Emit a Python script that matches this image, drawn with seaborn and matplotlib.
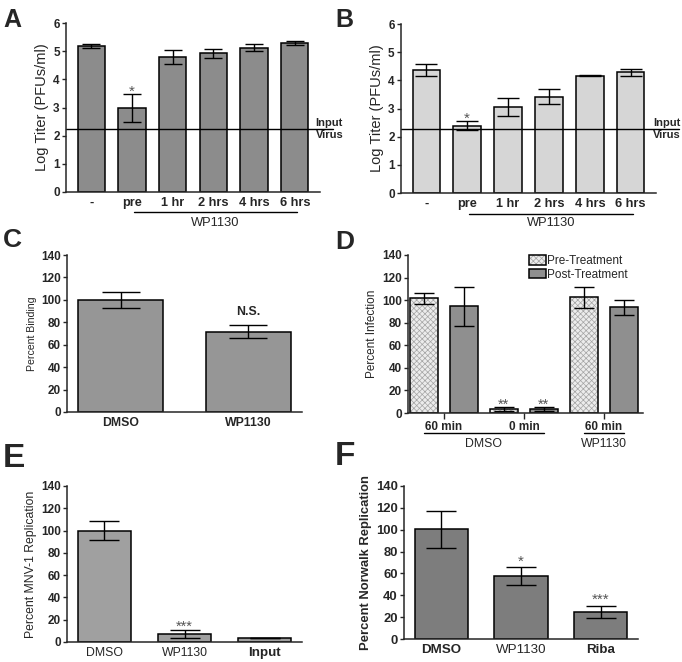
import numpy as np
import pandas as pd
import matplotlib
matplotlib.use("Agg")
import matplotlib.pyplot as plt
import matplotlib.colors as mcolors
import seaborn as sns

# A / B: log titer after WP1130 at different times
AB_CATS = ["-", "pre", "1 hr", "2 hrs", "4 hrs", "6 hrs"]
A_TITER = [5.17, 2.97, 4.79, 4.92, 5.13, 5.28]
A_ERR = [0.07, 0.50, 0.26, 0.15, 0.11, 0.07]
A_STARS = ["", "*", "", "", "", ""]
A_INPUT = 2.24
B_TITER = [4.38, 2.39, 3.06, 3.42, 4.17, 4.29]
B_ERR = [0.21, 0.16, 0.31, 0.27, 0.02, 0.13]
B_STARS = ["", "*", "", "", "", ""]
B_INPUT = 2.27

# C: binding
C_CATS = ["DMSO", "WP1130"]
C_BINDING = [100, 71.5]
C_ERR = [7.3, 5.8]

# D: pre / post treatment infection
D_GROUPS = ["DMSO 60", "DMSO 0", "WP1130 60"]
D_TICKS = ["60 min", "0 min", "60 min"]
D_HUES = ["Pre-Treatment", "Post-Treatment"]
D_PRE = [101.5, 3.5, 102.5]
D_PRE_ERR = [5.0, 1.5, 9.5]
D_POST = [94.5, 3.5, 93.5]
D_POST_ERR = [17.0, 1.5, 6.5]
D_STARS = ["", "**", ""]

# E: MNV-1 replication
E_CATS = ["DMSO", "WP1130", "Input"]
E_REPL = [100, 7.4, 3.2]
E_ERR = [8.3, 3.7, 0]
E_STARS = ["", "***", ""]

# F: Norwalk replicon
F_CATS = ["DMSO", "WP1130", "Riba"]
F_REPL = [100.3, 57.6, 24.8]
F_ERR = [17.0, 8.0, 5.8]
F_STARS = ["", "*", "***"]

sns.set_style("ticks")
plt.rcParams["font.family"] = ["Liberation Sans", "DejaVu Sans"]
plt.rcParams["axes.linewidth"] = 1.1
plt.rcParams["hatch.linewidth"] = 0.5

W, H = 682, 662
fig = plt.figure(figsize=(W / 100, H / 100), dpi=100)


def px_axes(left, top, right, bottom):
    return fig.add_axes([left / W, 1 - bottom / H, (right - left) / W, (bottom - top) / H])


def draw_bars(ax, cats, vals, errs, color, capsize):
    sns.barplot(x=cats, y=vals, color=color, saturation=1, width=0.67,
                edgecolor="black", linewidth=1.1, errorbar=None, ax=ax)
    ax.errorbar(np.arange(len(cats)), vals, yerr=errs, fmt="none", ecolor="black",
                elinewidth=1, capsize=capsize, capthick=1)


def add_stars(ax, xs, vals, errs, stars, size=11, dy=-3):
    for x, v, e, s in zip(xs, vals, errs, stars):
        if s:
            ax.annotate(s, (x, v + e), xytext=(0, dy), textcoords="offset points",
                        ha="center", va="bottom", fontsize=size, color="#555555")


def style(ax, yticks, ysize, xsize, ybold=True, xbold=True):
    sns.despine(ax=ax)
    ax.set_yticks(yticks)
    ax.set_ylim(yticks[0], yticks[-1])
    ax.tick_params(axis="y", length=3, width=1, pad=1.5, labelsize=ysize)
    ax.tick_params(axis="x", length=0, pad=3.5, labelsize=xsize)
    for t in ax.get_yticklabels():
        t.set_fontweight("bold" if ybold else "normal")
    for t in ax.get_xticklabels():
        t.set_fontweight("bold" if xbold else "normal")
    ax.set_xlabel("")


def input_line(ax, value, xmax, text_x):
    ax.axhline(value, xmin=0, xmax=xmax, color="black", lw=1, clip_on=False)
    tr = ax.get_yaxis_transform()
    ax.annotate("Input", (text_x, value), xycoords=tr, xytext=(0, 1), textcoords="offset points",
                ha="left", va="bottom", fontsize=8, fontweight="bold")
    ax.annotate("Virus", (text_x, value), xycoords=tr, xytext=(0, -1), textcoords="offset points",
                ha="left", va="top", fontsize=8, fontweight="bold")


def wp_bracket(ax, y_line, y_text):
    tr = ax.get_xaxis_transform()
    ax.plot([1.05, 5.05], [y_line, y_line], color="black", lw=1, transform=tr, clip_on=False)
    ax.text(3.05, y_text, "WP1130", transform=tr, ha="center", va="center", fontsize=9.3)


# ---- A
ax = px_axes(66, 23, 320, 192)
draw_bars(ax, AB_CATS, A_TITER, A_ERR, "#8c8c8c", 6.8)
add_stars(ax, range(6), A_TITER, A_ERR, A_STARS)
style(ax, list(range(7)), 8.5, 9.2)
ax.set_ylabel("Log Titer (PFUs/ml)", fontsize=10.5, labelpad=3)
input_line(ax, A_INPUT, 1.05, 0.983)
wp_bracket(ax, -0.118, -0.182)

# ---- B
ax = px_axes(401, 24, 656, 193)
draw_bars(ax, AB_CATS, B_TITER, B_ERR, "#d6d6d6", 8)
add_stars(ax, range(6), B_TITER, B_ERR, B_STARS)
style(ax, list(range(7)), 8.5, 9.2)
ax.set_ylabel("Log Titer (PFUs/ml)", fontsize=10.5, labelpad=3)
input_line(ax, B_INPUT, 1.09, 0.988)
wp_bracket(ax, -0.122, -0.176)

# ---- C
ax = px_axes(67, 255, 302, 412)
draw_bars(ax, C_CATS, C_BINDING, C_ERR, "#969696", 14)
style(ax, list(range(0, 141, 20)), 8.5, 8.8)
ax.set_ylabel("Percent Binding", fontsize=7.6, labelpad=3)
ax.annotate("N.S.", (1, C_BINDING[1] + C_ERR[1]), xytext=(0, 5), textcoords="offset points",
            ha="center", va="bottom", fontsize=8.8, fontweight="bold")

# ---- D
ax = px_axes(408, 255, 643, 413)
d_df = pd.DataFrame({
    "group": D_GROUPS * 2,
    "treat": [D_HUES[0]] * len(D_GROUPS) + [D_HUES[1]] * len(D_GROUPS),
    "val": D_PRE + D_POST,
})
sns.barplot(data=d_df, x="group", y="val", hue="treat", hue_order=D_HUES,
            palette=["#ececec", "#8f8f8f"], saturation=1, width=1.0, gap=0.3,
            edgecolor="black", linewidth=1.1, errorbar=None, legend=False, ax=ax)
for bar in ax.containers[0]:
    bar.set_hatch("xxxxxx")
    if hasattr(bar, "set_hatchcolor"):
        bar.set_hatchcolor("#a4a4a4")
    else:
        bar._hatch_color = mcolors.to_rgba("#a4a4a4")
for cont, vals, errs in zip(ax.containers, [D_PRE, D_POST], [D_PRE_ERR, D_POST_ERR]):
    xs = [b.get_x() + b.get_width() / 2 for b in cont]
    ax.errorbar(xs, vals, yerr=errs, fmt="none", ecolor="black", elinewidth=1,
                capsize=7.2, capthick=1)
    add_stars(ax, xs, vals, errs, D_STARS, size=10.5, dy=-3)
style(ax, list(range(0, 141, 20)), 8.5, 8.5)
ax.set_xlim(-0.45, 2.49)
ax.set_xticks(range(len(D_TICKS)))
ax.set_xticklabels(D_TICKS, fontweight="bold", fontsize=8.5)
ax.tick_params(axis="x", length=4, width=1, pad=2)
ax.set_ylabel("Percent Infection", fontsize=8.5, labelpad=3)
tr = ax.get_xaxis_transform()
ax.plot([-0.25, 1.25], [-0.127, -0.127], color="black", lw=1, transform=tr, clip_on=False)
ax.plot([1.75, 2.25], [-0.127, -0.127], color="black", lw=1, transform=tr, clip_on=False)
ax.text(0.5, -0.195, "DMSO", transform=tr, ha="center", va="center", fontsize=8.8)
ax.text(2.0, -0.195, "WP1130", transform=tr, ha="center", va="center", fontsize=8.8)
ax.legend(handles=[ax.containers[0][0], ax.containers[1][0]], labels=D_HUES,
          loc="upper left", bbox_to_anchor=(0.515, 1.0), frameon=False, fontsize=8.5,
          handlelength=1.4, handleheight=0.85, handletextpad=0.15, labelspacing=0.15,
          borderpad=0, borderaxespad=0)

# ---- E
ax = px_axes(67, 486, 302, 642)
draw_bars(ax, E_CATS, E_REPL, E_ERR, "#a0a0a0", 10.8)
add_stars(ax, range(3), E_REPL, E_ERR, E_STARS, size=10.5, dy=-3)
style(ax, list(range(0, 141, 20)), 8.5, 8.8, xbold=False)
xl = ax.get_xticklabels()
xl[2].set_fontweight("bold")
xl[2].set_fontsize(9.6)
ax.set_ylabel("Percent MNV-1 Replication", fontsize=8.8, labelpad=3)

# ---- F
ax = px_axes(404, 486, 638, 639)
draw_bars(ax, F_CATS, F_REPL, F_ERR, "#7d7d7d", 10.7)
add_stars(ax, range(3), F_REPL, F_ERR, F_STARS, size=11, dy=-1)
style(ax, list(range(0, 141, 20)), 9.4, 9.6)
ax.get_xticklabels()[1].set_fontweight("normal")
ax.set_ylabel("Percent Norwalk Replication", fontsize=9.4, fontweight="bold", labelpad=3)

# panel letters
for letter, x, y, size in [("A", 3, 27, 18), ("B", 335, 27, 18), ("C", 3, 247, 19),
                           ("D", 335, 249, 19), ("E", 3, 467, 24), ("F", 335, 465, 24)]:
    fig.text(x / W, 1 - y / H, letter, fontsize=size, fontweight="bold",
             ha="left", va="baseline")

fig.savefig("out.png", dpi=100)
